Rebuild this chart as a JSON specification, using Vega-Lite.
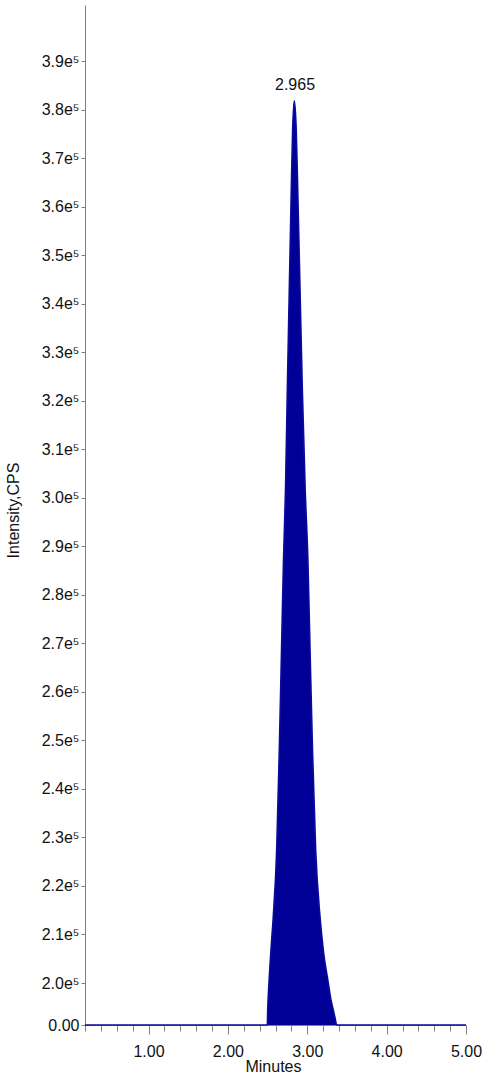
{
  "$schema": "https://vega.github.io/schema/vega-lite/v6.json",
  "width": 381,
  "height": 1020,
  "autosize": {"type": "none"},
  "padding": {"left": 85, "top": 5, "right": 19, "bottom": 52},
  "config": {"view": {"stroke": null}, "font": "Liberation Sans"},
  "datasets": {
    "chrom": [
      {"time": 0.2, "intensity": 0},
      {"time": 1.0, "intensity": 0},
      {"time": 2.0, "intensity": 0},
      {"time": 2.497, "intensity": 0},
      {"time": 2.502, "intensity": 71429},
      {"time": 2.518, "intensity": 200000},
      {"time": 2.543, "intensity": 206800},
      {"time": 2.572, "intensity": 213601},
      {"time": 2.615, "intensity": 227408},
      {"time": 2.648, "intensity": 248016},
      {"time": 2.676, "intensity": 268624},
      {"time": 2.701, "intensity": 287172},
      {"time": 2.726, "intensity": 301597},
      {"time": 2.749, "intensity": 322205},
      {"time": 2.774, "intensity": 342813},
      {"time": 2.799, "intensity": 363421},
      {"time": 2.816, "intensity": 375786},
      {"time": 2.837, "intensity": 381800},
      {"time": 2.861, "intensity": 375786},
      {"time": 2.88, "intensity": 363421},
      {"time": 2.909, "intensity": 342813},
      {"time": 2.938, "intensity": 322205},
      {"time": 2.974, "intensity": 301597},
      {"time": 3.008, "intensity": 287172},
      {"time": 3.035, "intensity": 268624},
      {"time": 3.066, "intensity": 248016},
      {"time": 3.106, "intensity": 227408},
      {"time": 3.161, "intensity": 213601},
      {"time": 3.202, "intensity": 206800},
      {"time": 3.265, "intensity": 200000},
      {"time": 3.299, "intensity": 119048},
      {"time": 3.328, "intensity": 71429},
      {"time": 3.35, "intensity": 33333},
      {"time": 3.371, "intensity": 0},
      {"time": 4.0, "intensity": 0},
      {"time": 5.0, "intensity": 0}
    ],
    "peak": [{"time": 2.846, "intensity": 381800, "label": "2.965"}]
  },
  "layer": [
    {
      "data": {"name": "chrom"},
      "mark": {"type": "area", "color": "#000096", "opacity": 1, "fillOpacity": 1, "interpolate": "monotone", "line": {"strokeWidth": 1.6, "color": "#0a0a9c"}},
      "encoding": {
        "x": {
          "field": "time",
          "type": "quantitative",
          "scale": {"domain": [0.2, 5.0], "nice": false, "zero": false},
          "axis": {
            "values": [0.2, 0.4, 0.6, 0.8, 1, 1.2, 1.4, 1.6, 1.8, 2, 2.2, 2.4, 2.6, 2.8, 3, 3.2, 3.4, 3.6, 3.8, 4, 4.2, 4.4, 4.6, 4.8, 5],
            "tickCount": 40,
            "title": "Minutes",
            "titleFontSize": 16,
            "titleFontWeight": "normal",
            "titleColor": "#111111",
            "titleX": 188,
            "titleY": 41,
            "titleBaseline": "middle",
            "labelExpr": "abs(datum.value - round(datum.value)) < 0.01 ? format(datum.value, '.2f') : ''",
            "labelFontSize": 16,
            "labelColor": "#111111",
            "labelFlush": false,
            "labelOverlap": false,
            "labelPadding": 9,
            "labelBaseline": "top",
            "tickSize": {"condition": {"test": "abs(datum.value - round(datum.value)) < 0.01", "value": 9}, "value": 6},
            "tickColor": "#808080",
            "domainColor": "#808080",
            "grid": false
          }
        },
        "y": {
          "field": "intensity",
          "type": "quantitative",
          "scale": {"domain": [0, 200000, 401546], "range": [1020, 978, 0], "nice": false, "zero": false},
          "axis": {
            "values": [0, 200000, 210000, 220000, 230000, 240000, 250000, 260000, 270000, 280000, 290000, 300000, 310000, 320000, 330000, 340000, 350000, 360000, 370000, 380000, 390000],
            "tickCount": 40,
            "labelExpr": "datum.value == 0 ? '0.00' : format(datum.value / 100000, '.1f') + 'e⁵'",
            "title": "Intensity,CPS",
            "titleFontSize": 16,
            "titleFontWeight": "normal",
            "titleColor": "#111111",
            "titleX": -72,
            "titleY": 505,
            "titleBaseline": "middle",
            "titleAngle": -90,
            "tickSize": 4,
            "labelPadding": 2,
            "labelFontSize": 16,
            "labelColor": "#111111",
            "labelFlush": false,
            "labelOverlap": false,
            "tickColor": "#808080",
            "domainColor": "#808080",
            "grid": false
          }
        }
      }
    },
    {
      "data": {"name": "peak"},
      "mark": {"type": "text", "dy": -8, "baseline": "bottom", "fontSize": 16, "color": "#111111"},
      "encoding": {
        "x": {"field": "time", "type": "quantitative"},
        "y": {"field": "intensity", "type": "quantitative"},
        "text": {"field": "label"}
      }
    }
  ]
}
